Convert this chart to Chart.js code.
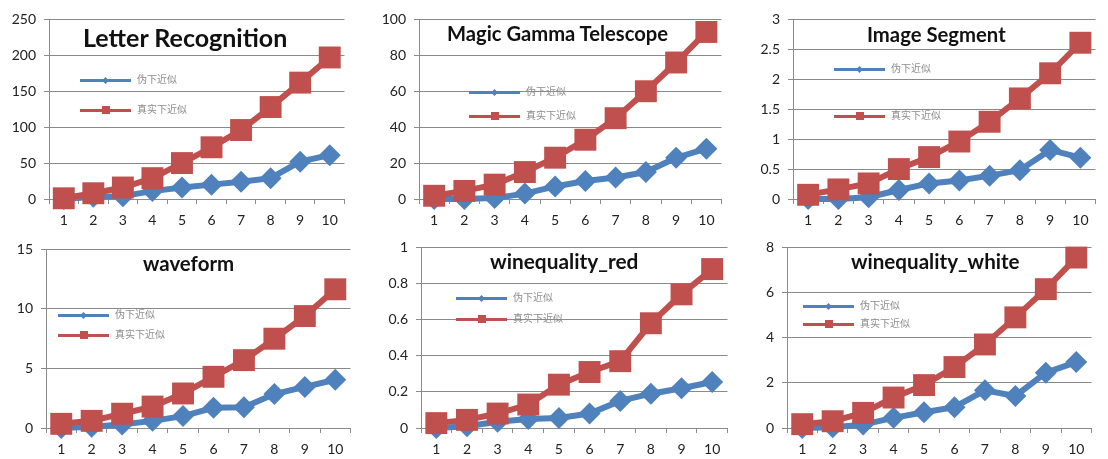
<!DOCTYPE html>
<html><head><meta charset="utf-8">
<script src="https://cdn.jsdelivr.net/npm/chart.js@4.4.1/dist/chart.umd.min.js"></script>
<style>
html,body{margin:0;padding:0;background:#fff;}
#wrap{position:relative;width:1108px;height:459px;overflow:hidden;background:#fff;}
.cv{position:absolute;}
.title{position:absolute;font-family:Lato,"Liberation Sans",sans-serif;font-weight:bold;color:#111;white-space:nowrap;line-height:1;}
.leg{position:absolute;font-family:"Noto Sans CJK SC",sans-serif;font-size:10px;color:#8c8c8c;white-space:nowrap;line-height:12px;}
.legline{position:absolute;height:3px;}
.legmark{position:absolute;}
</style></head><body><div id="wrap"></div>
<script>
// ---------- data ----------
const categories = ['1','2','3','4','5','6','7','8','9','10'];
const seriesNames = ['伪下近似', '真实下近似'];
const titles = ['Letter Recognition', 'Magic Gamma Telescope', 'Image Segment', 'waveform', 'winequality_red', 'winequality_white'];

const letterPseudo = [0, 3, 4, 11, 16, 20, 24, 29, 52, 61];
const letterReal   = [1, 8, 16, 29, 50, 72, 96, 128, 162, 197];
const letterTicks  = [0, 50, 100, 150, 200, 250];

const magicPseudo = [0, 0, 0.5, 3, 7, 10, 12, 15, 23, 28];
const magicReal   = [1.8, 4.5, 8, 15, 23, 33, 45, 60, 76, 93];
const magicTicks  = [0, 20, 40, 60, 80, 100];

const imagePseudo = [0, 0, 0.03, 0.15, 0.26, 0.31, 0.39, 0.48, 0.82, 0.69];
const imageReal   = [0.07, 0.16, 0.26, 0.5, 0.7, 0.96, 1.29, 1.68, 2.1, 2.61];
const imageTicks  = [0, 0.5, 1, 1.5, 2, 2.5, 3];

const wavePseudo = [0, 0.1, 0.3, 0.6, 1.0, 1.7, 1.75, 2.85, 3.45, 4.05];
const waveReal   = [0.35, 0.6, 1.2, 1.8, 2.9, 4.3, 5.7, 7.5, 9.4, 11.65];
const waveTicks  = [0, 5, 10, 15];

const redPseudo = [0, 0.01, 0.035, 0.05, 0.055, 0.08, 0.15, 0.19, 0.22, 0.255];
const redReal   = [0.027, 0.045, 0.08, 0.13, 0.24, 0.31, 0.37, 0.58, 0.74, 0.88];
const redTicks  = [0, 0.2, 0.4, 0.6, 0.8, 1];

const whitePseudo = [0, 0.03, 0.15, 0.45, 0.7, 0.92, 1.67, 1.42, 2.45, 2.92];
const whiteReal   = [0.17, 0.3, 0.67, 1.35, 1.9, 2.7, 3.7, 4.9, 6.15, 7.55];
const whiteTicks  = [0, 2, 4, 6, 8];

const panels = [
  {title: titles[0], pseudo: letterPseudo, real: letterReal, ticks: letterTicks},
  {title: titles[1], pseudo: magicPseudo,  real: magicReal,  ticks: magicTicks},
  {title: titles[2], pseudo: imagePseudo,  real: imageReal,  ticks: imageTicks},
  {title: titles[3], pseudo: wavePseudo,   real: waveReal,   ticks: waveTicks},
  {title: titles[4], pseudo: redPseudo,    real: redReal,    ticks: redTicks},
  {title: titles[5], pseudo: whitePseudo,  real: whiteReal,  ticks: whiteTicks}
];

// ---------- layout (positions / styles) ----------
const boxes = [
  {ax:49,  top:13,  bottom:199, right:356,  tx:83,  tw:204, tb:47,    lx:80,  ly1:80,  ly2:110},
  {ax:419, top:13,  bottom:199, right:733,  tx:447, tw:221, tb:41,    lx:469, ly1:92,  ly2:116},
  {ax:793, top:13,  bottom:199, right:1107, tx:867, tw:139, tb:41.7,  lx:834, ly1:69,  ly2:116},
  {ax:46,  top:243, bottom:428, right:362,  tx:143, tw:91,  tb:271.3, lx:58,  ly1:315, ly2:335},
  {ax:421, top:241, bottom:428, right:739,  tx:490, tw:148, tb:268.7, lx:456, ly1:298, ly2:319},
  {ax:787, top:241, bottom:428, right:1103, tx:851, tw:169, tb:268.7, lx:803, ly1:306, ly2:324}
];
const BLUE = '#4F81BD', RED = '#C0504D', GRID = '#8a8a8a';
const wrap = document.getElementById('wrap');

function fmt(v){ return String(Math.round(v*1000)/1000); }

function makeChart(p, b){
  const YW = 46, PT = 10, PR = 4, XH = 32;
  const plotW = b.right - b.ax, plotH = b.bottom - b.top;
  const W = YW + plotW + PR, H = PT + plotH + XH;
  const holder = document.createElement('div');
  holder.className = 'cv';
  holder.style.left = (b.ax - YW) + 'px';
  holder.style.top = (b.top - PT) + 'px';
  holder.style.width = W + 'px';
  holder.style.height = H + 'px';
  const c = document.createElement('canvas');
  c.width = W; c.height = H;
  c.style.width = W + 'px'; c.style.height = H + 'px';
  holder.appendChild(c);
  wrap.appendChild(holder);
  const t = p.ticks;
  new Chart(c, {
    type: 'line',
    data: {
      labels: categories,
      datasets: [
        {label: seriesNames[1], data: p.real, borderColor: RED, backgroundColor: RED,
         borderWidth: 6, pointStyle: 'rect', pointRadius: 15.5, pointBorderWidth: 0,
         pointBackgroundColor: RED, tension: 0, clip: false},
        {label: seriesNames[0], data: p.pseudo, borderColor: BLUE, backgroundColor: BLUE,
         borderWidth: 6, pointStyle: 'rectRot', pointRadius: 11, pointBorderWidth: 0,
         pointBackgroundColor: BLUE, tension: 0, clip: false}
      ]
    },
    options: {
      responsive: false, animation: false, events: [],
      layout: {padding: {top: PT, right: PR, left: 0, bottom: 0}},
      plugins: {legend: {display: false}, tooltip: {enabled: false}, title: {display: false}},
      scales: {
        x: {
          offset: true,
          grid: {offset: true, drawOnChartArea: false, drawTicks: true, tickLength: 5, color: GRID},
          border: {color: GRID, width: 1},
          ticks: {padding: 8, font: {family: 'Lato', size: 14}, color: '#222', maxRotation: 0, autoSkip: false},
          afterFit(s){ s.height = XH; }
        },
        y: {
          min: t[0], max: t[t.length-1],
          grid: {color: GRID, tickLength: 5, drawTicks: true},
          border: {color: GRID, width: 1},
          ticks: {stepSize: t[1]-t[0], padding: 8, font: {family: 'Lato', size: 14}, color: '#222', callback: v => fmt(v)},
          afterFit(s){ s.width = YW; }
        }
      }
    }
  });
}

function makeTitle(p, b){
  const d = document.createElement('div');
  d.className = 'title';
  d.style.fontSize = '20px';
  d.textContent = p.title;
  const m = document.createElement('span');
  m.style.display = 'inline-block'; m.style.width = '0'; m.style.height = '0'; m.style.verticalAlign = 'baseline';
  d.appendChild(m);
  wrap.appendChild(d);
  const w0 = d.offsetWidth;
  const size = 20 * b.tw / w0;
  d.style.fontSize = size + 'px';
  d.style.left = b.tx + 'px';
  d.style.top = '0px';
  const base = m.offsetTop;
  d.style.top = (b.tb - base) + 'px';
}

function makeLegend(b){
  const rows = [[seriesNames[0], BLUE, b.ly1, 'diamond'], [seriesNames[1], RED, b.ly2, 'square']];
  rows.forEach(r => {
    const ln = document.createElement('div');
    ln.className = 'legline';
    ln.style.background = r[1];
    ln.style.left = b.lx + 'px'; ln.style.width = '51px';
    ln.style.top = (r[2] - 1.5) + 'px';
    wrap.appendChild(ln);
    const mk = document.createElement('div');
    mk.className = 'legmark';
    mk.style.background = r[1];
    if (r[3] === 'diamond') {
      mk.style.width = '5px'; mk.style.height = '5px';
      mk.style.left = (b.lx + 23) + 'px'; mk.style.top = (r[2] - 2.5) + 'px';
      mk.style.transform = 'rotate(45deg)';
    } else {
      mk.style.width = '8px'; mk.style.height = '8px';
      mk.style.left = (b.lx + 22) + 'px'; mk.style.top = (r[2] - 4) + 'px';
    }
    wrap.appendChild(mk);
    const tx = document.createElement('div');
    tx.className = 'leg';
    tx.textContent = r[0];
    tx.style.left = (b.lx + 57) + 'px';
    tx.style.top = (r[2] - 7) + 'px';
    wrap.appendChild(tx);
  });
}

panels.forEach((p, i) => { makeChart(p, boxes[i]); });
panels.forEach((p, i) => { makeLegend(boxes[i]); makeTitle(p, boxes[i]); });
</script>
</body></html>
